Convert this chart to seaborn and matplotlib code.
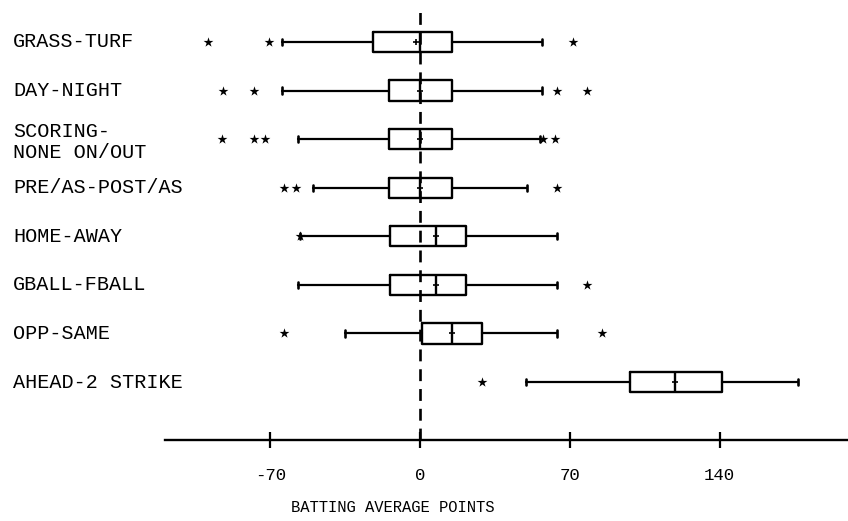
import numpy as np
import pandas as pd
import matplotlib
matplotlib.use("Agg")
import matplotlib.pyplot as plt
import matplotlib.transforms as mtransforms
import seaborn as sns

# ---- data (batting average points) ----
categories = ["GRASS-TURF", "DAY-NIGHT", "SCORING-\nNONE ON/OUT", "PRE/AS-POST/AS",
              "HOME-AWAY", "GBALL-FBALL", "OPP-SAME", "AHEAD-2 STRIKE"]
whisker_low = [-64.5, -64.5, -57, -50, -56, -57, -35, 49.5]
q1_vals = [-22, -14.5, -14.5, -14.5, -14, -14, 1, 98]
medians = [0, 0, 0, 0, 7.5, 7.5, 15, 119]
q3_vals = [15, 15, 15, 15, 21.5, 21.5, 29, 141]
whisker_high = [57, 57, 56, 50, 64, 64, 64, 176.5]
means = [-2, 0, 0, 0, 7.5, 7.5, 15, 119]
outliers = [
    [-99, -70.5, 71.5],
    [-92, -77.5, 64, 78],
    [-92.5, -77.5, -72.5, 57.5, 63],
    [-63.5, -58, 64],
    [-56],
    [78],
    [-63.5, 85],
    [29],
]
tick_values = [-70, 0, 70, 140]
xlabel = "BATTING AVERAGE POINTS"

sns.set_style("white")
plt.rcParams["font.family"] = ["Liberation Mono", "DejaVu Sans Mono"]

W, H = 848, 521
fig = plt.figure(figsize=(W / 100, H / 100), dpi=100)
ax = fig.add_axes([165 / W, 1 - 440 / H, 1 - 165 / W, (440 - 8) / H])

positions = np.arange(len(categories))
stats = []
for i in range(len(categories)):
    stats.append(dict(med=medians[i], q1=q1_vals[i], q3=q3_vals[i],
                      whislo=whisker_low[i], whishi=whisker_high[i],
                      mean=means[i], fliers=[]))

ax.bxp(stats, positions=positions, orientation="horizontal", widths=0.42,
       capwidths=0.13, showfliers=False, showmeans=False,
       boxprops=dict(color="black", linewidth=1.7),
       whiskerprops=dict(color="black", linewidth=1.6),
       capprops=dict(color="black", linewidth=1.9),
       medianprops=dict(color="black", linewidth=1.7),
       patch_artist=False)

# outliers as stars
ox, oy = [], []
for i, vals in enumerate(outliers):
    for v in vals:
        ox.append(v)
        oy.append(i)
df_out = pd.DataFrame({"x": ox, "y": oy})
sns.scatterplot(data=df_out, x="x", y="y", marker="*", color="black",
                s=55, linewidth=0, ax=ax, zorder=5)

# small mean marks
sns.scatterplot(x=means, y=positions, marker="+", color="black", s=16,
                linewidth=1.2, ax=ax, zorder=6)

# dashed reference line at zero
ax.axvline(0, color="black", linewidth=1.9, linestyle=(0, (4.5, 3)), zorder=4)

ax.set_xlim(-119.2, 200)
ax.set_ylim(len(categories) - 1 + (440 - 382) / 48.6, -(42 - 8) / 48.6)

for s in ["top", "left", "right"]:
    ax.spines[s].set_visible(False)
ax.spines["bottom"].set_linewidth(1.7)
ax.spines["bottom"].set_color("black")

ax.set_yticks([])
ax.set_xticks(tick_values)
ax.set_xticklabels([str(v) for v in tick_values])
ax.tick_params(axis="x", bottom=True, direction="inout", length=12, width=1.6,
               labelsize=12.5, pad=14, colors="black")
ax.set_xlabel("")
ax.set_ylabel("")

# category labels, left aligned
trans = mtransforms.blended_transform_factory(fig.transFigure, ax.transData)
for i, lab in enumerate(categories):
    yoff = 0.06 if "\n" in lab else 0
    ax.text(13 / W, i + yoff, lab, transform=trans, ha="left", va="center",
            fontsize=14.5, linespacing=1.15, color="black")

fig.text(393 / W, 1 - 508 / H, xlabel, ha="center", va="center",
         fontsize=11.2, color="black")

fig.savefig("out.png", dpi=100)
